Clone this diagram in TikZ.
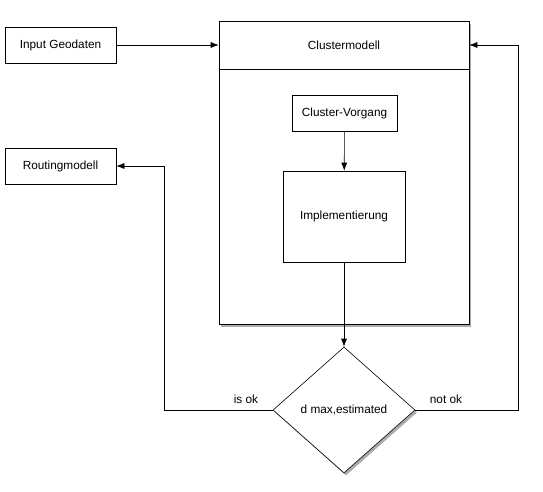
\documentclass[tikz,border=0pt]{standalone}
\usepackage{fontspec}
\setmainfont{Liberation Sans}
\usepackage{tikz}
\usetikzlibrary{shapes,arrows,arrows.meta,positioning,calc,shadows}
\definecolor{shadowgray}{RGB}{90, 90, 90}

\begin{document}
\begin{tikzpicture}[x=1pt,y=-1pt,font=\fontsize{11.8}{14}\selectfont,
    box/.style={draw,semithick,fill=white,inner sep=0pt},
    flow/.style={-{Latex[length=8pt,width=6pt]},semithick},
    boxshadow/.style={drop shadow={shadow xshift=2pt,shadow yshift=-2.5pt,fill=shadowgray,opacity=0.5}}]
    \useasboundingbox (0,0) rectangle (543,491);

    % Outer model box with header
    \node[box,boxshadow,minimum width=250pt,minimum height=303pt] (cluster) at (344,172.5) {};
    \draw[semithick] (219,69) -- (469,69);
    \node (clustertitle) at (344,45) {Clustermodell};

    % Inner steps
    \node[box,minimum width=105pt,minimum height=36pt] (vorgang) at (344.5,113) {Cluster-Vorgang};
    \node[box,minimum width=122pt,minimum height=91pt] (impl) at (344,216.5) {Implementierung};

    % Decision
    \node[box,boxshadow,diamond,minimum width=142pt,minimum height=126pt,aspect=1.13] (check) at (344,410) {d max,estimated};

    % Outside boxes
    \node[box,minimum width=111pt,minimum height=36pt] (input) at (60.5,45) {Input Geodaten};
    \node[box,minimum width=111pt,minimum height=36pt] (routing) at (60.5,166) {Routingmodell};

    % Connectors
    \draw[flow] (input) -- (input -| cluster.west);
    \draw[flow] (vorgang) -- (impl);
    \draw[flow] (impl) -- (check);
    \coordinate (okturn) at (164,410);
    \coordinate (notokturn) at (518,410);
    \draw[flow] (check.west) -- (okturn) |- (routing.east);
    \draw[flow] (check.east) -- (notokturn) |- (clustertitle -| cluster.east);
    \node (isok) at (246,399) {is ok};
    \node (notok) at (446,399) {not ok};
\end{tikzpicture}
\end{document}
